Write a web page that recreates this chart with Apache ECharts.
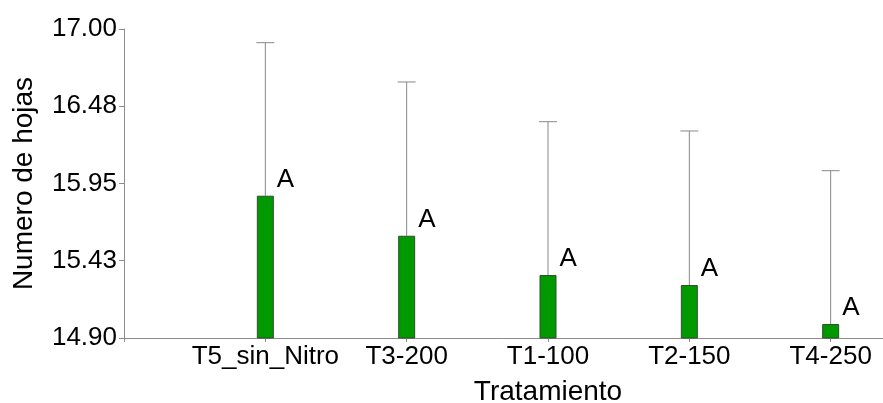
<!DOCTYPE html>
<html>
<head>
<meta charset="utf-8">
<script src="https://cdn.jsdelivr.net/npm/echarts@6/dist/echarts.min.js"></script>
<style>
html,body{margin:0;padding:0;background:#fff;}
#chart{width:883px;height:403px;}
</style>
</head>
<body>
<div id="chart"></div>
<script>
var categories = ['T5_sin_Nitro', 'T3-200', 'T1-100', 'T2-150', 'T4-250'];
var means = [15.867, 15.595, 15.328, 15.26, 14.995];
var errors = [1.04, 1.045, 1.042, 1.047, 1.042];
var letters = ['A', 'A', 'A', 'A', 'A'];
var tickValues = [14.90, 15.425, 15.95, 16.475, 17.00];
var tickLabels = ['14.90', '15.43', '15.95', '16.48', '17.00'];

var axisCats = [''].concat(categories).concat(['']);
var barData = ['-'].concat(means.map(function (m, i) {
  return { value: m, label: { formatter: letters[i] } };
})).concat(['-']);
var errData = means.map(function (m, i) { return [i + 1, m, errors[i]]; });

var chart = echarts.init(document.getElementById('chart'));
var FONT = 'Liberation Sans, Arial, sans-serif';
chart.setOption({
  animation: false,
  backgroundColor: '#ffffff',
  grid: { left: 124, top: 29, width: 848, height: 309, containLabel: false, outerBoundsMode: 'none' },
  xAxis: {
    type: 'category',
    data: axisCats,
    boundaryGap: false,
    name: 'Tratamiento',
    nameLocation: 'middle',
    nameGap: 40,
    nameTextStyle: { fontFamily: FONT, fontSize: 28, color: '#000' },
    axisLine: { lineStyle: { color: '#8c8c8c', width: 1 } },
    axisTick: { show: true, length: 4, lineStyle: { color: '#8c8c8c' } },
    axisLabel: { fontFamily: FONT, fontSize: 26, color: '#000', margin: 6, interval: 0 },
    splitLine: { show: false }
  },
  yAxis: {
    type: 'value',
    min: 14.9,
    max: 17.0,
    name: 'Numero de hojas',
    nameLocation: 'middle',
    nameGap: 86,
    nameRotate: 90,
    nameTextStyle: { fontFamily: FONT, fontSize: 28, color: '#000' },
    axisLine: { show: true, lineStyle: { color: '#8c8c8c', width: 1 } },
    axisTick: { show: true, length: 5, customValues: tickValues, lineStyle: { color: '#8c8c8c' } },
    axisLabel: {
      fontFamily: FONT, fontSize: 26, color: '#000', margin: 7,
      customValues: tickValues,
      formatter: function (v) {
        var best = 0;
        for (var i = 1; i < tickValues.length; i++) {
          if (Math.abs(tickValues[i] - v) < Math.abs(tickValues[best] - v)) best = i;
        }
        return tickLabels[best];
      }
    },
    splitLine: { show: false }
  },
  series: [
    {
      type: 'bar',
      data: barData,
      barWidth: 17,
      itemStyle: { color: '#009900', borderColor: '#2f4f2f', borderWidth: 1 },
      label: {
        show: true,
        position: [20, -3],
        align: 'left',
        verticalAlign: 'bottom',
        fontFamily: FONT, fontSize: 26, color: '#000'
      },
      z: 2
    },
    {
      type: 'custom',
      data: errData,
      z: 1,
      renderItem: function (params, api) {
        var x = api.value(0), m = api.value(1), e = api.value(2);
        var p0 = api.coord([x, m]);
        var p1 = api.coord([x, m + e]);
        var half = 9;
        return {
          type: 'group',
          children: [
            { type: 'line', shape: { x1: p0[0], y1: p0[1], x2: p1[0], y2: p1[1] },
              style: { stroke: '#888888', lineWidth: 1 } },
            { type: 'line', shape: { x1: p1[0] - half, y1: p1[1], x2: p1[0] + half, y2: p1[1] },
              style: { stroke: '#888888', lineWidth: 1 } }
          ]
        };
      }
    }
  ]
});
</script>
</body>
</html>
